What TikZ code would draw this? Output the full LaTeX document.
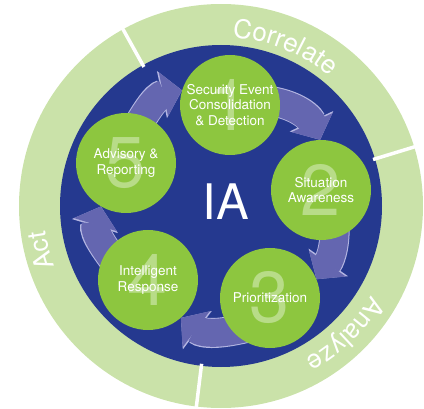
\documentclass[tikz,border=0pt]{standalone}
\usepackage{fontspec}
\setmainfont{TeX Gyre Heros}
\usetikzlibrary{arrows.meta,backgrounds,calc,decorations.text}
\definecolor{ringgreen}{HTML}{CAE2A9}
\definecolor{diskblue}{HTML}{25398F}
\definecolor{stagegreen}{HTML}{8DC63F}
\definecolor{flowfill}{HTML}{6466B0}
\definecolor{flowrim}{HTML}{B4B6E2}
\tikzset{
  stage/.style={circle,fill=stagegreen,minimum size=100pt,inner sep=0pt},
  stagenum/.style={text=stagegreen!62!white,font=\fontsize{72}{72}\selectfont,inner sep=0pt},
  stagetext/.style={text=white,align=center,font=\fontsize{13.5}{15.5}\selectfont,inner sep=0pt},
  hub/.style={text=white,font=\fontsize{49}{49}\selectfont,inner sep=0pt},
  divider/.style={white,line width=3.5pt},
  flowedge/.style={draw=flowrim,line width=30pt,-{Triangle[width=47pt,length=20.5pt]}},
  flowbody/.style={draw=flowfill,line width=28pt,-{Triangle[width=44pt,length=19pt]}},
}
% curved block arrow between two stages
\newcommand{\cyclearrow}[4]{%
  \draw[flowedge] (#1) to[out=#2,in=#3] (#4);
  \draw[flowbody] (#1) to[out=#2,in=#3] (#4);
}
% white word set along the outer ring
\newcommand{\ringlabel}[3]{%
  \path[decorate,decoration={text along path,text align=center,text color=white,
        text={|\fontsize{26}{26}\selectfont|#3}}]
    (c) ++(#1+45:#2pt) arc[start angle=#1+45,end angle=#1-45,radius=#2pt];
}

\begin{document}
\begin{tikzpicture}[x=1pt,y=1pt]
  \useasboundingbox (0,0) rectangle (424,408);
  \coordinate (c) at (221,202);
  \foreach \n/\px/\py in {1/230/303, 2/321/218, 3/270/110, 4/148/128, 5/126/245} {
    \node[stage] (s\n) at (\px,\py) {};
    \node[stagenum] (n\n) at (s\n) {\n};
  }
  \node[stagetext] (t1) at (s1) {Security Event\\Consolidation\\\& Detection};
  \node[stagetext] (t2) at (s2) {Situation\\Awareness};
  \node[stagetext] (t3) at (s3) {Prioritization};
  \node[stagetext] (t4) at (s4) {Intelligent\\Response};
  \node[stagetext] (t5) at (s5) {Advisory \&\\Reporting};
  \node[hub] (ia) at (226,206) {IA};
  \begin{scope}[on background layer]
    \fill[ringgreen] (c) circle[radius=202pt];
    \fill[diskblue] (c) circle[radius=161pt];
    \foreach \a in {119,17,-97}
      \draw[divider] (c) ++(\a:159pt) -- ++(\a:48pt);
    \ringlabel{68}{169}{Correlate}
    \ringlabel{-46}{175}{Analyze}
    \ringlabel{194}{177}{Act}
    \cyclearrow{$(s1)+(12:25pt)$}{0}{115}{s2.91}
    \cyclearrow{$(s2)+(-62:28pt)$}{-85}{55}{s3.22}
    \cyclearrow{$(s3)+(-115:30pt)$}{195}{-37}{s4.-49}
    \cyclearrow{$(s4)+(165:25pt)$}{128}{-107}{s5.-120}
    \cyclearrow{$(s5)+(80:25pt)$}{60}{192}{s1.163}
  \end{scope}
\end{tikzpicture}
\end{document}
